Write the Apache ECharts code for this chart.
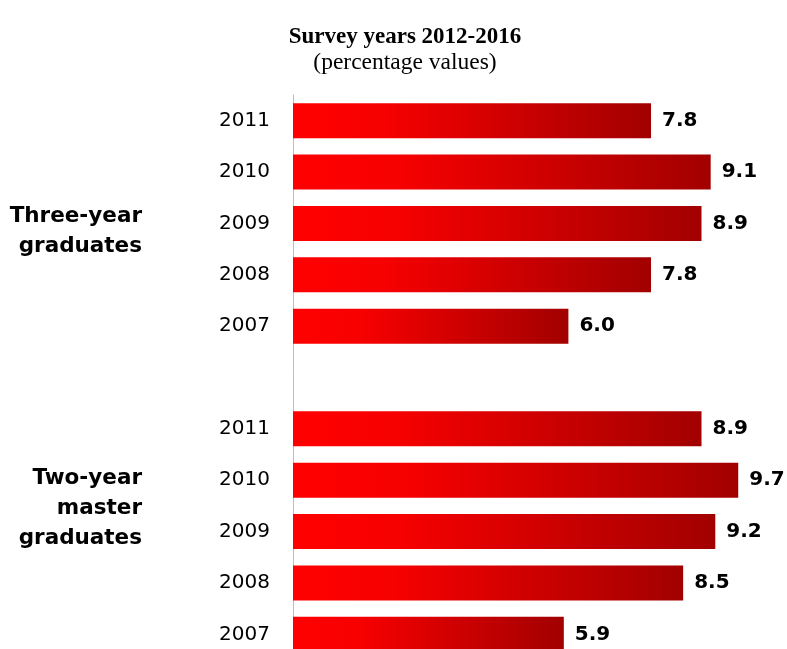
<!DOCTYPE html>
<html>
<head>
<meta charset="utf-8">
<script src="https://cdn.jsdelivr.net/npm/echarts@6/dist/echarts.min.js"></script>
<style>html,body{margin:0;padding:0;background:#fff}#c{width:787px;height:649px}</style>
</head>
<body>
<div id="c"></div>
<script>
// Data
const yearLabels = ['2011','2010','2009','2008','2007','','2011','2010','2009','2008','2007'];
const threeYear = [7.8, 9.1, 8.9, 7.8, 6.0];
const twoYearMaster = [8.9, 9.7, 9.2, 8.5, 5.9];
const groupLabels = ['Three-year\ngraduates', 'Two-year\nmaster\ngraduates'];
const titleText = 'Survey years 2012-2016';
const subtitleText = '(percentage values)';

const values = threeYear.concat([null]).concat(twoYearMaster);

const chart = echarts.init(document.getElementById('c'));
const grad = new echarts.graphic.LinearGradient(0, 0, 1, 0, [
  {offset: 0, color: '#ff0000'},
  {offset: 0.25, color: '#f70000'},
  {offset: 1, color: '#a20000'}
]);

chart.setOption({
  animation: false,
  grid: {left: 293, top: 95, width: 459, height: 565, containLabel: false, outerBoundsMode: 'none'},
  xAxis: {type: 'value', min: 0, max: 10, show: false},
  yAxis: {
    type: 'category', data: yearLabels, inverse: true,
    axisLine: {show: true, lineStyle: {color: '#bdbdbd', width: 1}},
    axisTick: {show: false},
    axisLabel: {margin: 23, fontFamily: 'DejaVu Sans', fontSize: 20, color: '#000'}
  },
  series: [{
    type: 'bar', data: values, barWidth: 35,
    itemStyle: {color: grad},
    label: {show: true, position: 'right', distance: 11, fontFamily: 'DejaVu Sans', fontWeight: 'bold', fontSize: 20, color: '#000',
      formatter: p => p.value.toFixed(1)}
  }]
});

const x0 = 142;
const p1 = chart.convertToPixel({yAxisIndex: 0}, 2);
const p2 = chart.convertToPixel({yAxisIndex: 0}, 7);
const p3 = chart.convertToPixel({yAxisIndex: 0}, 8);
chart.setOption({
  graphic: [
    {type: 'text', x: 405, y: 37, style: {text: titleText, align: 'center', verticalAlign: 'middle', fontFamily: 'Liberation Serif', fontWeight: 'bold', fontSize: 23, fill: '#000'}},
    {type: 'text', x: 405, y: 63, style: {text: subtitleText, align: 'center', verticalAlign: 'middle', fontFamily: 'Liberation Serif', fontSize: 23.5, fill: '#000'}},
    {type: 'text', x: x0, y: p1 + 8, style: {text: groupLabels[0], align: 'right', verticalAlign: 'middle', fontFamily: 'DejaVu Sans', fontWeight: 'bold', fontSize: 21.5, lineHeight: 30, fill: '#000'}},
    {type: 'text', x: x0, y: (p2 + p3) / 2 + 3, style: {text: groupLabels[1], align: 'right', verticalAlign: 'middle', fontFamily: 'DejaVu Sans', fontWeight: 'bold', fontSize: 21.5, lineHeight: 30, fill: '#000'}}
  ]
});
</script>
</body>
</html>
